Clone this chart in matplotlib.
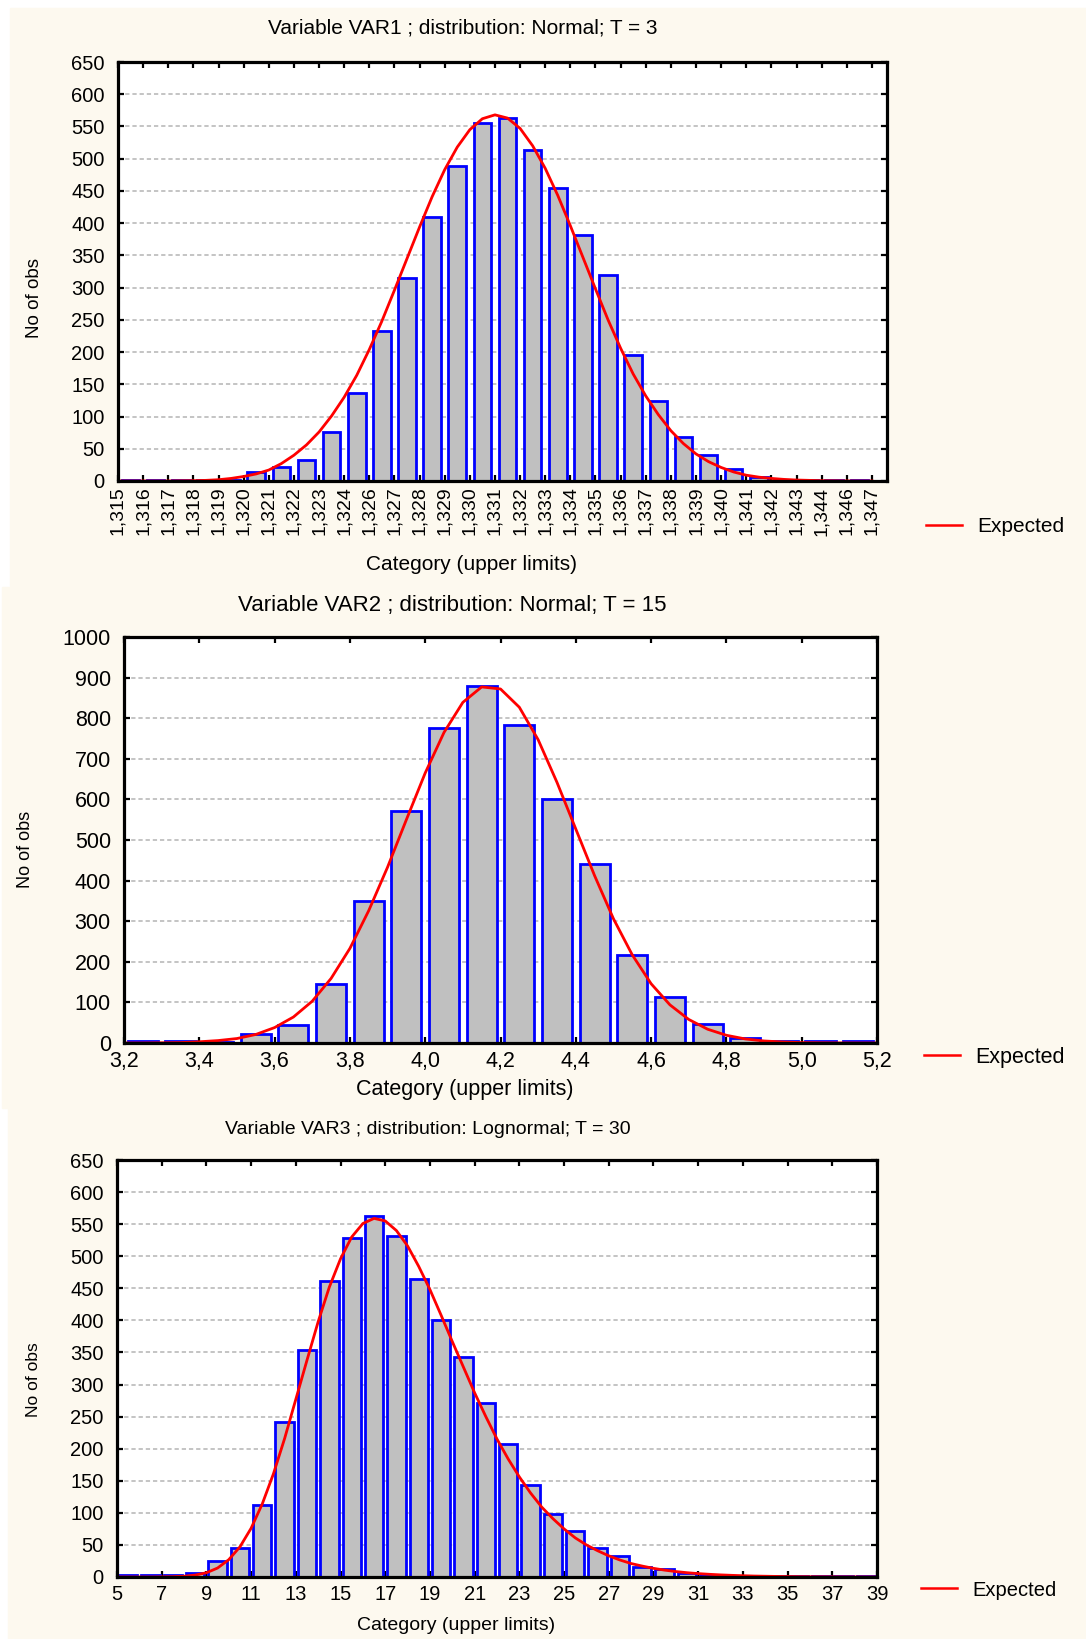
import numpy as np
import matplotlib.pyplot as plt
from matplotlib.patches import Rectangle
from matplotlib.lines import Line2D

plt.rcParams['font.family'] = ['Liberation Sans', 'DejaVu Sans']

W, H = 1086, 1639
CREAM = '#fdf9ef'

# VAR1 - normal, T = 3
var1_labels = ['1,315', '1,316', '1,317', '1,318', '1,319', '1,320', '1,321', '1,322',
               '1,323', '1,324', '1,326', '1,327', '1,328', '1,329', '1,330', '1,331',
               '1,332', '1,333', '1,334', '1,335', '1,336', '1,337', '1,338', '1,339',
               '1,340', '1,341', '1,342', '1,343', '1,344', '1,346', '1,347']
var1_counts = [1, 1, 1, 1, 2, 14, 22, 33, 76, 137, 232, 315, 410, 489, 556, 563,
               513, 455, 381, 320, 196, 124, 68, 40, 18, 6, 1, 1, 1, 2]
var1_expected = [0, 0, 0, 0, 0, 0.3, 0.5, 1, 2, 4, 7, 11, 17, 27, 40, 56, 76, 101,
                 130, 164, 204, 248, 296, 345, 394, 441, 483, 518, 545, 562, 568,
                 563, 547, 520, 485, 443, 396, 347, 298, 250, 206, 166, 132, 103,
                 78, 58, 42, 30, 21, 14, 9, 6, 4, 2.5, 1.5, 1, 0.5, 0.3, 0.1, 0, 0]

# VAR2 - normal, T = 15
var2_edges = [3.2, 3.3, 3.4, 3.5, 3.6, 3.7, 3.8, 3.9, 4.0, 4.1, 4.2, 4.3, 4.4, 4.5,
              4.6, 4.7, 4.8, 4.9, 5.0, 5.1]
var2_counts = [5, 5, 3, 21, 44, 146, 350, 572, 776, 879, 784, 600, 441, 216, 113,
               46, 13, 5, 5, 5]
var2_ticks = ['3,2', '3,4', '3,6', '3,8', '4,0', '4,2', '4,4', '4,6', '4,8', '5,0', '5,2']
var2_expected = [0, 0, 0.5, 1, 3, 6, 11, 21, 38, 64, 103, 159, 233, 326, 433, 550,
                 665, 765, 839, 877, 872, 827, 747, 642, 527, 412, 306, 217, 146,
                 94, 58, 34, 19, 10, 5, 2.5, 1, 0.5, 0.2, 0, 0]

# VAR3 - lognormal, T = 30
var3_counts = [3, 3, 3, 7, 25, 45, 113, 242, 354, 461, 529, 563, 532, 464, 400, 343,
               271, 207, 144, 98, 72, 45, 33, 15, 12, 7, 3, 1, 1, 1, 1, 1, 1, 1]
var3_expected = [0, 0, 0, 0, 0.2, 0.5, 1.2, 3, 6.6, 14, 27, 47, 76, 114, 161, 216,
                 277, 338, 398, 452, 496, 530, 551, 559, 555, 540, 516, 484, 448,
                 408, 367, 327, 287, 250, 215, 184, 156, 131, 109, 91, 75, 61, 50,
                 41, 33, 26.5, 21, 17, 13.5, 10.7, 8.5, 6.7, 5.3, 4.2, 3.3, 2.6, 2,
                 1.5, 1.2, 0.9, 0.7, 0.5, 0.4, 0.3, 0.2, 0.15, 0.1, 0.05, 0]


def px_axes(fig, left, top, right, bottom):
    return fig.add_axes([left / W, 1 - bottom / H, (right - left) / W, (bottom - top) / H])


def style_axes(ax, ymax, ystep, fs):
    ax.set_facecolor('white')
    ax.set_ylim(0, ymax)
    ax.set_yticks(np.arange(0, ymax + 1, ystep))
    for y in np.arange(ystep, ymax, ystep):
        ax.axhline(y, color='#c4c4c4', lw=1.4, ls=(0, (2.2, 1.5)), zorder=1)
    for s in ax.spines.values():
        s.set_linewidth(2.3)
        s.set_zorder(5)
    ax.tick_params(direction='in', length=4, width=1.6, top=True, right=True,
                   labelsize=fs)
    ax.tick_params(axis='y', pad=9.5)


def expected_legend(ax, x, y, fs):
    # handle and gap sizes given in pixels, converted to font-size units
    em = fs * 100 / 72
    h = Line2D([], [], color='#ff0000', lw=1.8)
    ax.legend([h], ['Expected'], loc='center left', bbox_to_anchor=(x / W, 1 - y / H),
              bbox_transform=ax.figure.transFigure, frameon=False, borderpad=0,
              borderaxespad=0, handlelength=36 / em, handletextpad=15 / em, fontsize=fs)


def header(fig, x, y, text, fs):
    fig.text(x / W, 1 - y / H, text, ha='center', va='center', fontsize=fs)


def ylabel(fig, x, y, fs):
    fig.text(x / W, 1 - y / H, 'No of obs', rotation=90, ha='center', va='center', fontsize=fs)


fig = plt.figure(figsize=(W / 100, H / 100), dpi=100)
fig.patch.set_facecolor('white')
fig.add_artist(Rectangle((10 / W, 1 - 586 / H), 1 - 10 / W, 578 / H,
                         transform=fig.transFigure, color=CREAM, zorder=0))
fig.add_artist(Rectangle((2 / W, 1 - 1108 / H), 1 - 2 / W, 521 / H,
                         transform=fig.transFigure, color=CREAM, zorder=0))
fig.add_artist(Rectangle((8 / W, 0), 1 - 8 / W, 1 - 1108 / H,
                         transform=fig.transFigure, color=CREAM, zorder=0))

bar_kw = dict(color='#c0c0c0', edgecolor='#0000ff', linewidth=2.0, zorder=2)
curve_kw = dict(color='#ff0000', lw=2.0, zorder=4)

# panel 1
ax1 = px_axes(fig, 118, 62, 887, 481)
style_axes(ax1, 650, 50, 14.5)
x1 = np.arange(len(var1_counts)) + 0.5
ax1.bar(x1, var1_counts, width=0.7, **bar_kw)
ax1.plot(np.arange(0, 30.01, 0.5), var1_expected, **curve_kw)
ax1.set_xlim(0, 30.6)
ax1.set_xticks(np.arange(len(var1_labels)))
ax1.set_xticklabels(var1_labels, rotation=90)
ax1.tick_params(axis='x', labelsize=14, pad=4)
header(fig, 463, 28, 'Variable VAR1 ; distribution: Normal; T = 3', 15)
header(fig, 472, 565, 'Category (upper limits)', 15)
ylabel(fig, 34, 298, 13.5)
expected_legend(ax1, 926, 527, 15)

# panel 2
ax2 = px_axes(fig, 124, 637, 877, 1043)
style_axes(ax2, 1000, 100, 15.5)
ax2.bar(np.array(var2_edges) + 0.05, var2_counts, width=0.08, **bar_kw)
ax2.plot(np.linspace(3.2, 5.2, len(var2_expected)), var2_expected, **curve_kw)
ax2.set_xlim(3.2, 5.2)
ax2.set_xticks(np.linspace(3.2, 5.2, len(var2_ticks)))
ax2.set_xticklabels(var2_ticks)
ax2.tick_params(axis='x', pad=6)
header(fig, 452, 605, 'Variable VAR2 ; distribution: Normal; T = 15', 16)
header(fig, 465, 1089, 'Category (upper limits)', 15.5)
ylabel(fig, 26, 849, 13)
expected_legend(ax2, 924, 1057, 15.5)

# panel 3
ax3 = px_axes(fig, 117, 1160, 877, 1577)
style_axes(ax3, 650, 50, 14.5)
ax3.bar(np.arange(5, 39) + 0.5, var3_counts, width=0.82, **bar_kw)
ax3.plot(np.arange(5, 39.01, 0.5), var3_expected, **curve_kw)
ax3.set_xlim(5, 39)
ax3.set_xticks(np.arange(5, 40, 2))
ax3.tick_params(axis='x', pad=6)
header(fig, 428, 1129, 'Variable VAR3 ; distribution: Lognormal; T = 30', 14)
header(fig, 456, 1625, 'Category (upper limits)', 14)
ylabel(fig, 33, 1380, 12.5)
expected_legend(ax3, 921, 1590, 14.5)

fig.savefig('out.png', dpi=100, facecolor=fig.get_facecolor())
